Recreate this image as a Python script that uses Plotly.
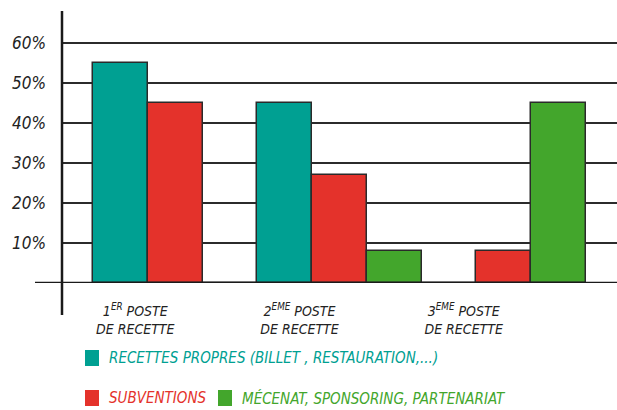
import plotly.graph_objects as go

# Revenue-source ranking data (share of organisations, %)
categories = ["1ER", "2EME", "3EME"]
tick_labels = [
    "<i>1<sup>ER</sup> POSTE<br>DE RECETTE</i>",
    "<i>2<sup>EME</sup> POSTE<br>DE RECETTE</i>",
    "<i>3<sup>EME</sup> POSTE<br>DE RECETTE</i>",
]
series_names = [
    "RECETTES PROPRES (BILLET , RESTAURATION,...)",
    "SUBVENTIONS",
    "MÉCENAT, SPONSORING, PARTENARIAT",
]
recettes_propres = [55, 45, 0]
subventions = [45, 27, 8]
mecenat = [0, 8, 45]
y_ticks = [10, 20, 30, 40, 50, 60]

colors = ["#00a092", "#e4322b", "#43a62c"]
FONT = "Liberation Sans Narrow, DejaVu Sans Condensed, Arial Narrow, sans-serif"

fig = go.Figure()
for name, vals, col in zip(series_names, [recettes_propres, subventions, mecenat], colors):
    fig.add_trace(go.Bar(
        x=categories, y=vals, name=name,
        marker=dict(color=col, line=dict(color="#2a2a2a", width=1.5)),
        showlegend=False,
    ))

fig.update_layout(
    width=617, height=410,
    margin=dict(l=62, r=0, t=11, b=127),
    paper_bgcolor="white", plot_bgcolor="white",
    barmode="group", bargap=0.0, bargroupgap=0.0,
    font=dict(family=FONT, color="#222"),
    xaxis=dict(
        type="category", range=[-0.69, 2.69],
        tickvals=categories, ticktext=tick_labels,
        ticks="", showgrid=False, showline=False, zeroline=False,
        tickfont=dict(size=14, color="#222"),
        ticklabelshift=-40, ticklabelstandoff=18,
    ),
    yaxis=dict(
        range=[0, 68], tickvals=y_ticks,
        ticktext=[f"<i>{v}%</i>" for v in y_ticks],
        ticks="", showline=False, zeroline=False,
        showgrid=True, gridcolor="#2b2b2b", gridwidth=2,
        tickfont=dict(size=17, color="#222"),
        ticklabelstandoff=15,
    ),
)

# Hand-drawn style axes: vertical axis overshooting the baseline, baseline overshooting the axis
fig.add_shape(type="line", xref="paper", yref="paper",
              x0=0, x1=0, y0=(283 - 315) / 272, y1=1.0,
              line=dict(color="#1a1a1a", width=2.5))
fig.add_shape(type="line", xref="paper", yref="y",
              x0=(35 - 62) / 555, x1=1.0, y0=0, y1=0,
              line=dict(color="#1a1a1a", width=2.5))

# Custom legend: coloured squares with series names in series colour
def px_x(px):
    return (px - 62) / 555

def px_y(py):
    return (283 - py) / 272

legend_items = [
    (85, 358, 0),
    (85, 398, 1),
    (218, 398, 2),
]
for sx, sy, i in legend_items:
    fig.add_shape(type="rect", xref="paper", yref="paper",
                  x0=px_x(sx), x1=px_x(sx + 14), y0=px_y(sy + 8), y1=px_y(sy - 8),
                  fillcolor=colors[i], line=dict(width=0))
    fig.add_annotation(xref="paper", yref="paper", x=px_x(sx + 22), y=px_y(sy),
                       xanchor="left", yanchor="middle", showarrow=False,
                       text=f"<i>{series_names[i]}</i>",
                       font=dict(size=15, color=colors[i], family=FONT))

fig.write_html("out.html")
